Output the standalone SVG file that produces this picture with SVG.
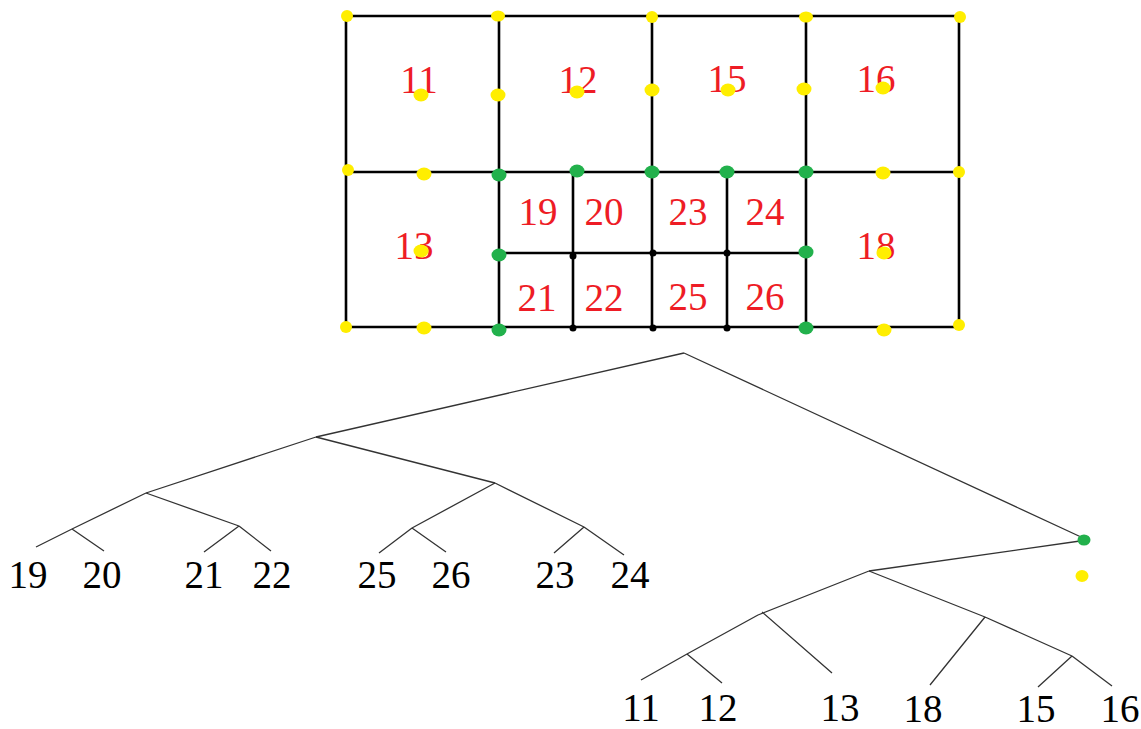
<svg xmlns="http://www.w3.org/2000/svg" width="1141" height="729" viewBox="0 0 1141 729">
<style>
.g{stroke:#000;stroke-width:2.6;fill:none;stroke-linecap:square}
.e{stroke:#333;stroke-width:1.3;fill:none}
.r{font-family:"Liberation Serif",serif;font-size:39px;fill:#ee1c25;text-anchor:middle}
.k{font-family:"Liberation Serif",serif;font-size:39px;fill:#000;text-anchor:middle}
.y{fill:#ffee00}
.gr{fill:#22b14c}
.b{fill:#000}
</style>
<rect width="1141" height="729" fill="#fff"/>
<g id="grid">
<path class="g" d="M346,16H959V327H346Z M346,172H959 M499,16V327 M652,16V327 M806,16V327 M499,253H806 M573,172V327 M727,172V327"/>
</g>
<g id="cells">
<g id="cell-11"><text class="r" x="419" y="93">11</text></g>
<g id="cell-12"><text class="r" x="578" y="93">12</text></g>
<g id="cell-15"><text class="r" x="727" y="92">15</text></g>
<g id="cell-16"><text class="r" x="876" y="92">16</text></g>
<g id="cell-13"><text class="r" x="414" y="259">13</text></g>
<g id="cell-18"><text class="r" x="876" y="259">18</text></g>
<g id="cell-19"><text class="r" x="538" y="225">19</text></g>
<g id="cell-20"><text class="r" x="604" y="225">20</text></g>
<g id="cell-23"><text class="r" x="688" y="225">23</text></g>
<g id="cell-24"><text class="r" x="765" y="225">24</text></g>
<g id="cell-21"><text class="r" x="537" y="311">21</text></g>
<g id="cell-22"><text class="r" x="604" y="311">22</text></g>
<g id="cell-25"><text class="r" x="688" y="310">25</text></g>
<g id="cell-26"><text class="r" x="765" y="310">26</text></g>
</g>
<g id="points">
<g class="y">
<ellipse cx="347" cy="16" rx="6" ry="6"/>
<ellipse cx="498" cy="16" rx="7" ry="5.5"/>
<ellipse cx="652" cy="17" rx="6" ry="6"/>
<ellipse cx="806" cy="17" rx="7" ry="5.5"/>
<ellipse cx="960" cy="17" rx="6" ry="6"/>
<ellipse cx="421" cy="95" rx="7.5" ry="6.5"/>
<ellipse cx="498" cy="95" rx="7.5" ry="6.5"/>
<ellipse cx="577" cy="92" rx="7.5" ry="6.5"/>
<ellipse cx="652" cy="90" rx="7.5" ry="6.5"/>
<ellipse cx="728" cy="90" rx="7.5" ry="6.5"/>
<ellipse cx="804" cy="89" rx="7.5" ry="6.5"/>
<ellipse cx="883" cy="88" rx="7.5" ry="6.5"/>
<ellipse cx="348" cy="170" rx="6" ry="6"/>
<ellipse cx="424" cy="174" rx="7.5" ry="6.5"/>
<ellipse cx="883" cy="173" rx="7.5" ry="6.5"/>
<ellipse cx="959" cy="172" rx="6" ry="6"/>
<ellipse cx="421" cy="251" rx="7.5" ry="6.5"/>
<ellipse cx="884" cy="253" rx="7.5" ry="6.5"/>
<ellipse cx="346" cy="327" rx="6" ry="6"/>
<ellipse cx="424" cy="328" rx="7.5" ry="6.5"/>
<ellipse cx="884" cy="330" rx="7.5" ry="6.5"/>
<ellipse cx="959" cy="325" rx="6" ry="6"/>
</g>
<g class="gr">
<ellipse cx="499" cy="175" rx="7.5" ry="6.5"/>
<ellipse cx="577" cy="171" rx="7.5" ry="6.5"/>
<ellipse cx="652" cy="172" rx="7.5" ry="6.5"/>
<ellipse cx="727" cy="172" rx="7.5" ry="6.5"/>
<ellipse cx="806" cy="172" rx="7.5" ry="6.5"/>
<ellipse cx="499" cy="255" rx="7.5" ry="6.5"/>
<ellipse cx="806" cy="252" rx="7.5" ry="6.5"/>
<ellipse cx="499" cy="330" rx="7.5" ry="6.5"/>
<ellipse cx="806" cy="328" rx="7.5" ry="6.5"/>
</g>
<g class="b">
<circle cx="573" cy="256" r="3.5"/>
<circle cx="653" cy="253" r="3.5"/>
<circle cx="727" cy="253" r="3.5"/>
<circle cx="573" cy="328" r="3.5"/>
<circle cx="653" cy="328" r="3.5"/>
<circle cx="727" cy="328" r="3.5"/>
</g>
</g>
<g id="connectors" class="e">
<path d="M684,353L316,437 M684,353L1081,537"/>
<path d="M316,437L146,493 M316,437L495,483"/>
<path d="M146,493L72,529 M72,529L36,547 M72,529L104,551"/>
<path d="M146,493L239,526 M239,526L204,552 M239,526L271,551"/>
<path d="M495,483L412,528 M412,528L379,553 M412,528L446,552"/>
<path d="M495,483L584,527 M584,527L554,553 M584,527L624,555"/>
<path d="M1080,541L869,571"/>
<path d="M869,571L758,615 M758,615L687,654 M687,654L641,680 M687,654L722,683 M762,612L832,673"/>
<path d="M869,571L985,617 M985,617L930,685 M985,617L1072,656 M1072,656L1038,687 M1072,656L1112,686"/>
</g>
<g id="tree-nodes">
<g id="t-root2"><ellipse class="gr" cx="1084" cy="540" rx="6.5" ry="5.5"/></g>
<g id="t-yellow"><ellipse class="y" cx="1082" cy="576" rx="6.5" ry="6"/></g>
<g id="leaf-19"><text class="k" x="28" y="588">19</text></g>
<g id="leaf-20"><text class="k" x="102" y="588">20</text></g>
<g id="leaf-21"><text class="k" x="204" y="588">21</text></g>
<g id="leaf-22"><text class="k" x="272" y="588">22</text></g>
<g id="leaf-25"><text class="k" x="377" y="588">25</text></g>
<g id="leaf-26"><text class="k" x="451" y="588">26</text></g>
<g id="leaf-23"><text class="k" x="555" y="588">23</text></g>
<g id="leaf-24"><text class="k" x="630" y="588">24</text></g>
<g id="leaf-11"><text class="k" x="641" y="721">11</text></g>
<g id="leaf-12"><text class="k" x="718" y="721">12</text></g>
<g id="leaf-13"><text class="k" x="840" y="721">13</text></g>
<g id="leaf-18"><text class="k" x="923" y="722">18</text></g>
<g id="leaf-15"><text class="k" x="1036" y="722">15</text></g>
<g id="leaf-16"><text class="k" x="1120" y="722">16</text></g>
</g>
</svg>
